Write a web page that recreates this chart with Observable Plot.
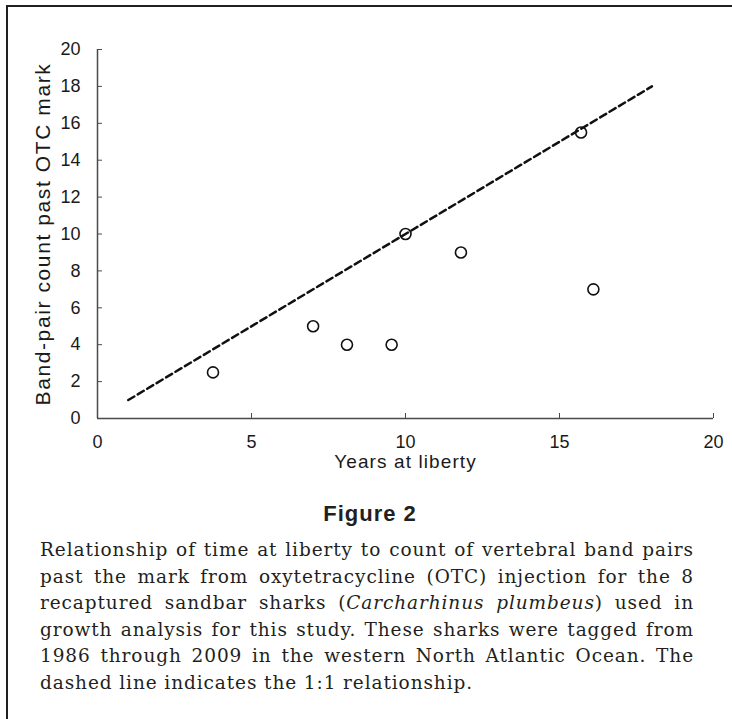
<!DOCTYPE html>
<html><head><meta charset="utf-8">
<script src="https://cdn.jsdelivr.net/npm/d3@7"></script>
<script src="https://cdn.jsdelivr.net/npm/@observablehq/plot@0.6"></script>
<style>
html,body{margin:0;padding:0;background:#fff;}
body{width:732px;height:719px;position:relative;overflow:hidden;}
#border{position:absolute;left:6px;top:5px;right:-10px;bottom:-10px;border-left:2.5px solid #231f20;border-top:2.5px solid #231f20;}
#chart{position:absolute;left:0;top:0;}
#fig{position:absolute;left:4px;width:732px;top:502px;text-align:center;font-weight:bold;font-size:22px;letter-spacing:1px;font-family:"Liberation Sans Narrow","Arial Narrow","Liberation Sans",sans-serif;color:#231f20;line-height:24px;}
#cap{position:absolute;left:40px;width:654px;top:537px;font-family:"DejaVu Serif",serif;font-size:18.5px;letter-spacing:0.9px;line-height:26.5px;color:#231f20;}
#cap div{text-align:justify;text-align-last:justify;white-space:nowrap;}
#cap div.last{text-align-last:left;}
</style>
</head><body>
<div id="border"></div>
<div id="chart"></div>
<div id="fig"></div>
<div id="cap"></div>
<script>
// Data
const yearsAtLiberty = [3.75, 7.0, 8.1, 9.55, 10.0, 11.8, 15.7, 16.1];
const bandPairCounts = [2.5, 5.0, 4.0, 4.0, 10.0, 9.0, 15.5, 7.0];
const oneToOneX = [1, 18];
const oneToOneY = [1, 18];
const xTicks = [0, 5, 10, 15, 20];
const yTicks = [0, 2, 4, 6, 8, 10, 12, 14, 16, 18, 20];
const xTitle = "Years at liberty";
const yTitle = "Band-pair count past OTC mark";
const figTitle = "Figure 2";
const captionLines = [
  "Relationship of time at liberty to count of vertebral band pairs",
  "past the mark from oxytetracycline (OTC) injection for the 8",
  "recaptured sandbar sharks (<i>Carcharhinus plumbeus</i>) used in",
  "growth analysis for this study. These sharks were tagged from",
  "1986 through 2009 in the western North Atlantic Ocean. The",
  "dashed line indicates the 1:1 relationship."
];

const points = yearsAtLiberty.map((x, i) => ({x, y: bandPairCounts[i]}));
const ref = oneToOneX.map((x, i) => ({x, y: oneToOneY[i]}));

const axisColor = "#4a4a4a";
const plot = Plot.plot({
  width: 732,
  height: 480,
  marginLeft: 97,
  marginRight: 19,
  marginTop: 49,
  marginBottom: 62,
  style: {fontFamily: "'Liberation Sans', Arial, sans-serif", color: "#1a1a1a", background: "transparent"},
  x: {domain: [0, 20]},
  y: {domain: [0, 20]},
  marks: [
    Plot.ruleX([0], {stroke: axisColor, strokeWidth: 1.5}),
    Plot.ruleY([0], {stroke: axisColor, strokeWidth: 1.5}),
    Plot.axisY({ticks: yTicks, tickSize: -5, tickPadding: 22, fontSize: 18, label: null, stroke: axisColor, tickFormat: d => d, fill: "#1a1a1a"}),
    Plot.axisX({ticks: xTicks, tickSize: -5, tickPadding: 22, fontSize: 18, label: null, stroke: axisColor, tickFormat: d => d, fill: "#1a1a1a"}),
    Plot.text([xTitle], {frameAnchor: "bottom", lineAnchor: "middle", textAnchor: "middle", dy: 43, fontSize: 19, fill: "#1a1a1a"}),
    Plot.text([yTitle], {frameAnchor: "left", lineAnchor: "middle", textAnchor: "middle", dx: -54, rotate: -90, fontSize: 21, fill: "#1a1a1a"}),
    Plot.line(ref, {x: "x", y: "y", stroke: "#111", strokeWidth: 2.5, strokeDasharray: "7,4"}),
    Plot.dot(points, {x: "x", y: "y", r: 5.5, stroke: "#111", strokeWidth: 1.6, fill: "none"})
  ]
});
d3.select(plot).selectAll("text").filter(function() { return this.textContent === xTitle; }).style("letter-spacing", "1.1px");
d3.select(plot).selectAll("text").filter(function() { return this.textContent === yTitle; }).style("letter-spacing", "1.6px");
document.getElementById("chart").appendChild(plot);
document.getElementById("fig").textContent = figTitle;
const cap = document.getElementById("cap");
captionLines.forEach((t, i) => {
  const d = document.createElement("div");
  d.innerHTML = t;
  if (i === captionLines.length - 1) d.className = "last";
  cap.appendChild(d);
});
</script>
</body></html>
